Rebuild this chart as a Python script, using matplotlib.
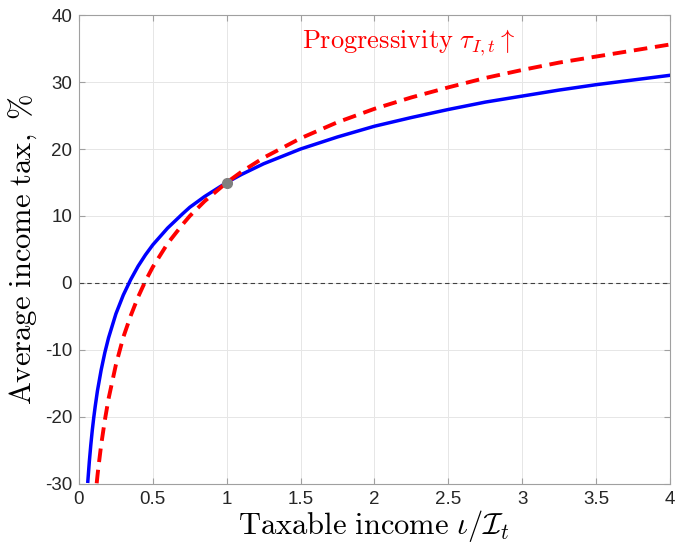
import matplotlib
matplotlib.use('Agg')
import matplotlib.pyplot as plt

plt.rcParams['mathtext.fontset'] = 'cm'
plt.rcParams['font.family'] = ['Liberation Sans', 'DejaVu Sans']
plt.rcParams['axes.unicode_minus'] = False

# taxable income (relative to mean) and average tax rate, %
inc_base = [0.06, 0.07, 0.08, 0.09, 0.1, 0.11, 0.125, 0.15, 0.175, 0.2, 0.25, 0.3,
            0.35, 0.4, 0.45, 0.5, 0.6, 0.7, 0.75, 0.85, 1.0, 1.1, 1.25, 1.5, 1.75,
            2.0, 2.25, 2.5, 2.75, 3.0, 3.25, 3.5, 3.75, 4.0]
tax_base = [-29.6, -26.7, -24.2, -22.0, -20.1, -18.4, -16.1, -13.0, -10.4, -8.2, -4.6, -1.8,
            0.5, 2.5, 4.2, 5.7, 8.2, 10.3, 11.3, 12.9, 15.0, 16.2, 17.8, 20.0, 21.8,
            23.4, 24.7, 25.9, 27.0, 27.9, 28.8, 29.6, 30.3, 31.0]

inc_prog = [0.12, 0.125, 0.13, 0.14, 0.15, 0.175, 0.2, 0.25, 0.3, 0.35, 0.4, 0.45,
            0.5, 0.6, 0.7, 0.75, 0.85, 1.0, 1.1, 1.25, 1.5, 1.75, 2.0, 2.25, 2.5,
            2.75, 3.0, 3.25, 3.5, 3.75, 4.0]
tax_prog = [-29.9, -28.8, -27.8, -26.0, -24.2, -20.5, -17.3, -12.2, -8.1, -4.9, -2.1, 0.3,
            2.4, 5.9, 8.7, 10.0, 12.2, 15.0, 16.6, 18.7, 21.6, 24.0, 26.0, 27.7, 29.2,
            30.6, 31.8, 32.9, 33.8, 34.7, 35.6]

fig = plt.figure(figsize=(6.79, 5.46), dpi=100)
ax = fig.add_axes([0.1163, 0.1136, 0.8704, 0.8589])

ax.axhline(0, color='#404040', lw=0.8, ls='--', dashes=(4, 3), zorder=1)
ax.plot(inc_base, tax_base, color='blue', lw=2.5, zorder=3)
ax.plot(inc_prog, tax_prog, color='red', lw=2.8, ls='--', dashes=(3.5, 2), zorder=4)
ax.plot([1], [15], 'o', color='gray', ms=7, zorder=5)

ax.text(1.51, 35.8, r'$\mathrm{Progressivity}\ \tau_{I,t}\uparrow$', color='red',
        fontsize=19, va='center', ha='left')

ax.set_xlim(0, 4)
ax.set_ylim(-30, 40)
ax.set_xticks([0, 0.5, 1, 1.5, 2, 2.5, 3, 3.5, 4])
ax.set_xticklabels(['0', '0.5', '1', '1.5', '2', '2.5', '3', '3.5', '4'])
ax.set_yticks(range(-30, 41, 10))
ax.grid(True, color='#e6e6e6', lw=0.7)
ax.set_axisbelow(True)
for s in ax.spines.values():
    s.set_color('#a0a0a0')
    s.set_linewidth(0.8)
ax.tick_params(direction='in', length=4, color='#a0a0a0', labelsize=13.5,
               labelcolor='#262626', top=True, right=True, pad=5)

ax.set_xlabel(r'$\mathrm{Taxable\ income}\ \iota/\mathcal{I}_t$', fontsize=22, labelpad=0)
ax.set_ylabel(r'$\mathrm{Average\ income\ tax,\ \%}$', fontsize=22, labelpad=4)

fig.savefig('out.png', dpi=100)
